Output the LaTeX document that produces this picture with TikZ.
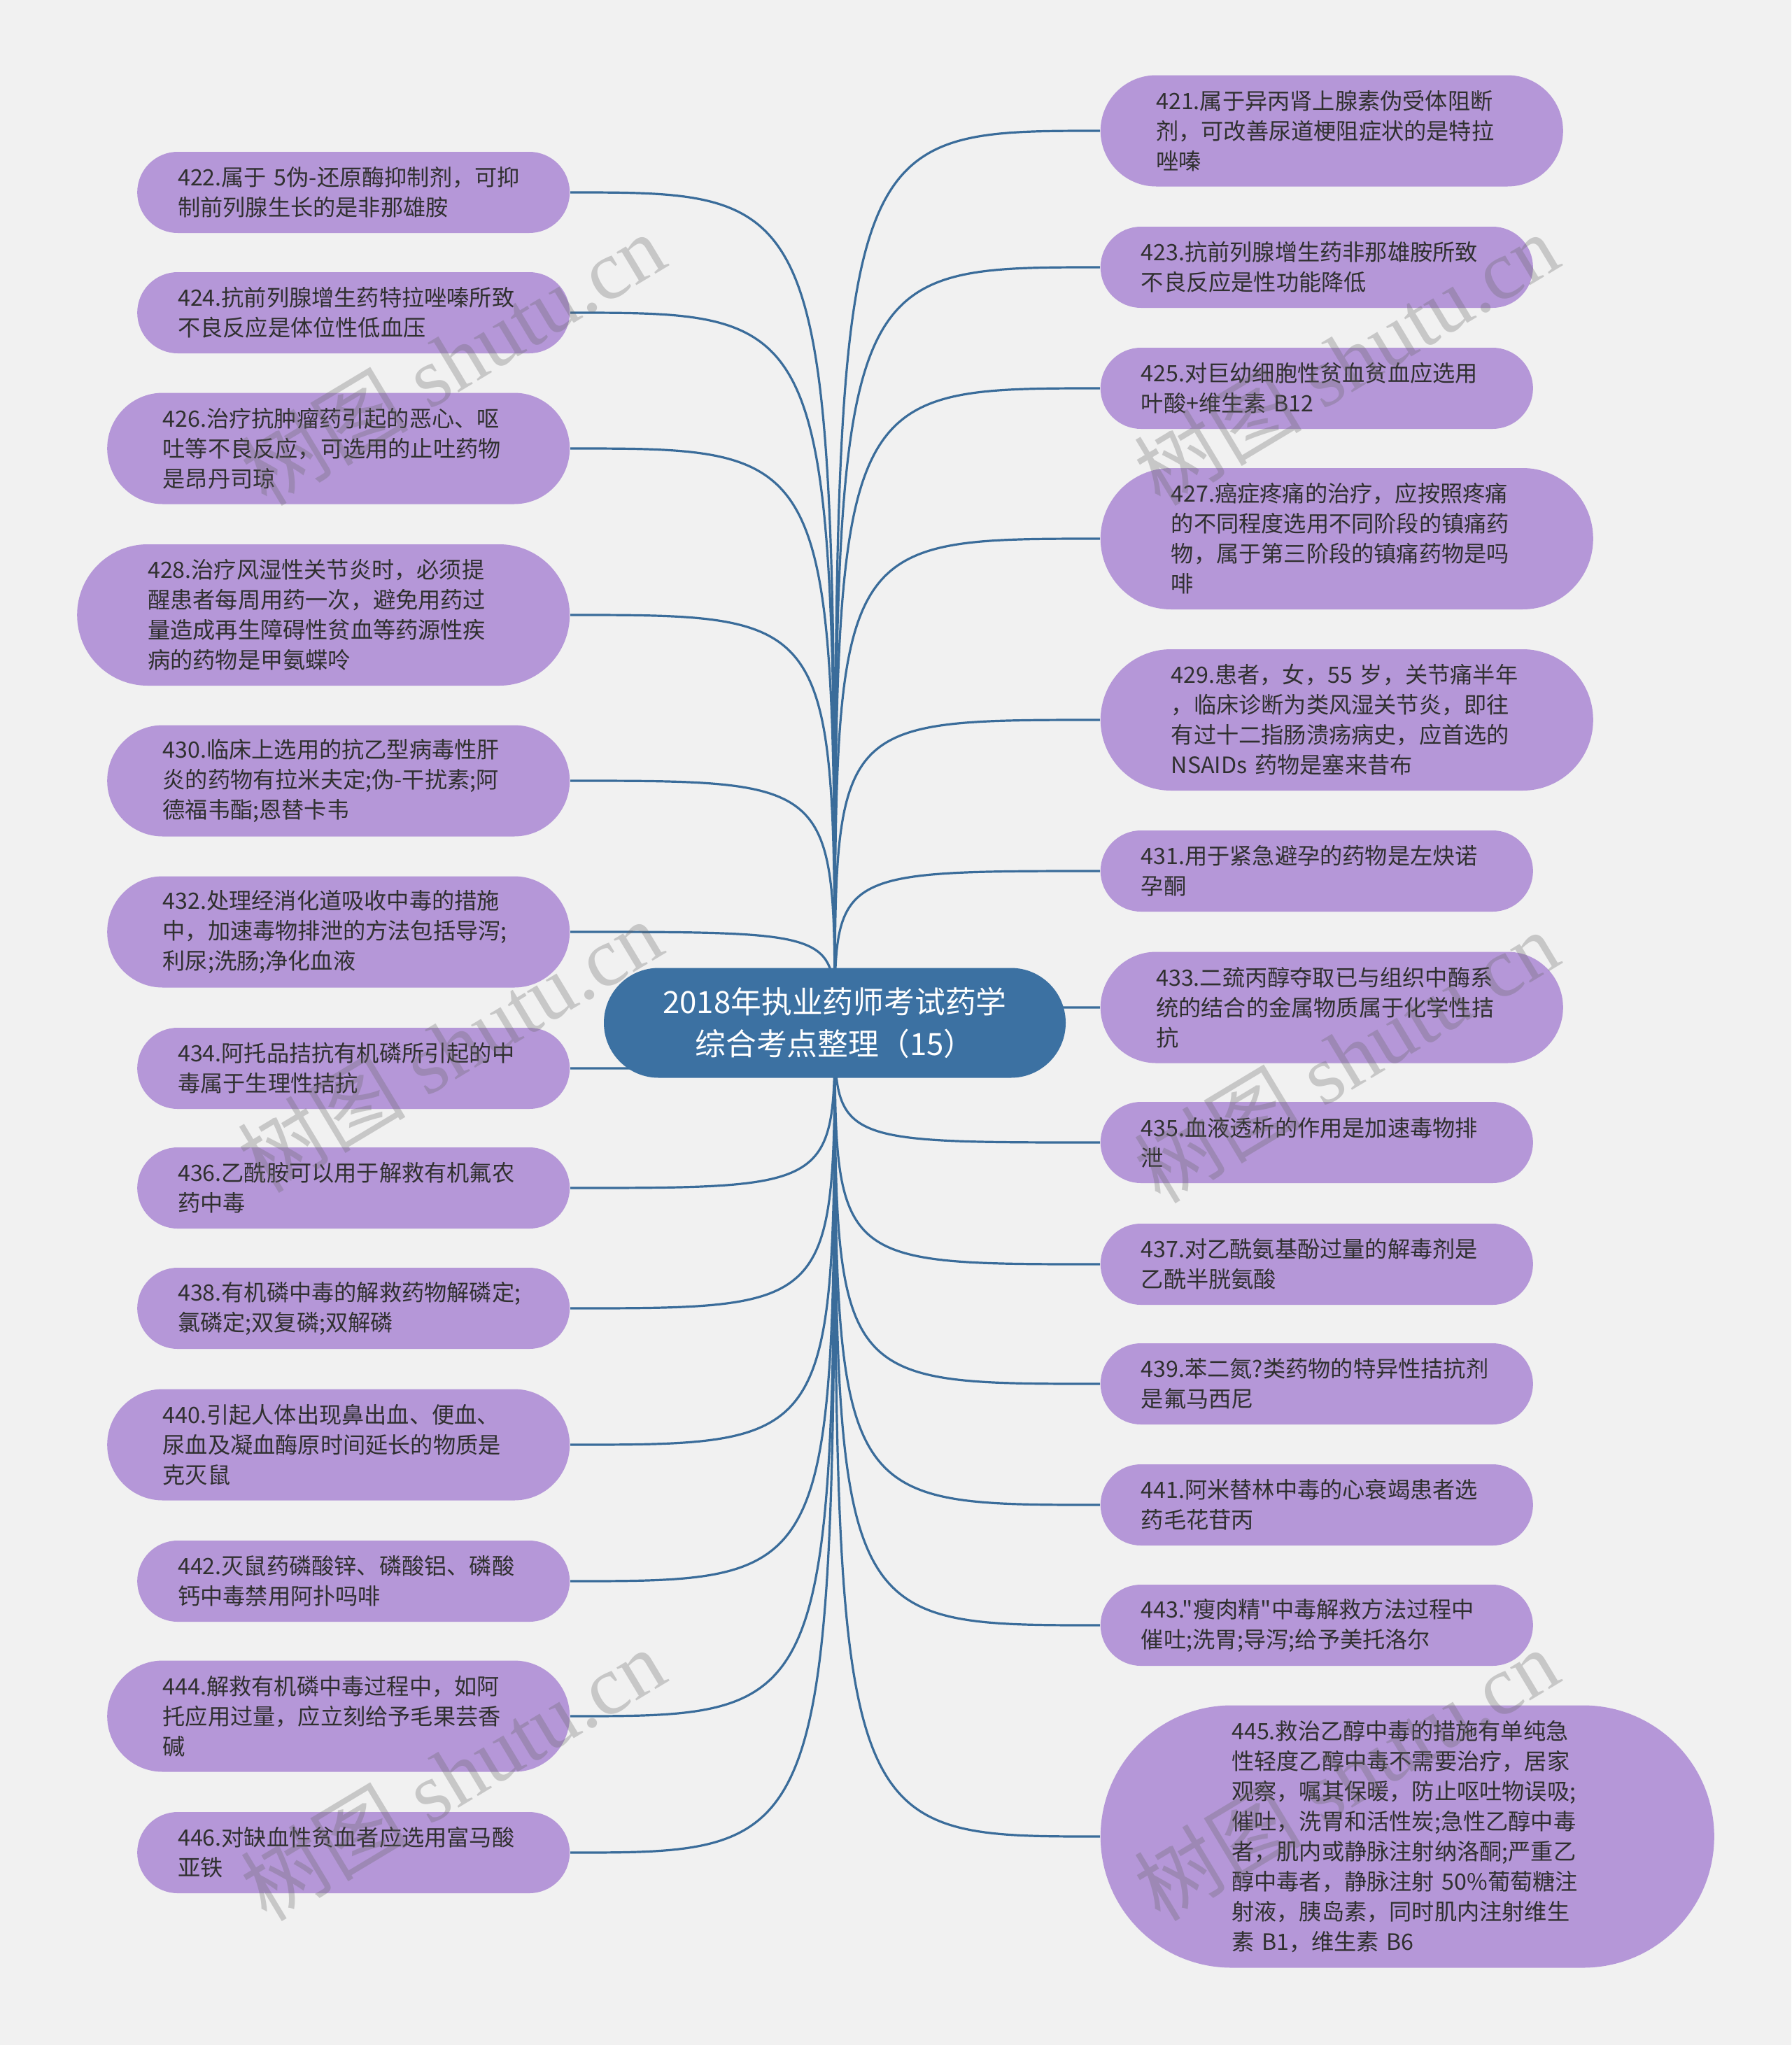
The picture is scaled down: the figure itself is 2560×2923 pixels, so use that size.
\documentclass[tikz,border=0pt]{standalone}
\usepackage{fontspec}
\setmainfont{Noto Sans CJK SC}
\newfontfamily\cjk{Noto Sans CJK SC}
\newfontfamily\wmlat{Liberation Serif}
\pgfdeclarelayer{bg}
\pgfsetlayers{bg,main}
\definecolor{bgc}{HTML}{F1F1F1}
\definecolor{leafc}{HTML}{B597D8}
\definecolor{centc}{HTML}{3C71A2}
\definecolor{linec}{HTML}{3A6C9A}
\definecolor{txtc}{HTML}{303030}
\tikzset{
  leafbase/.style={fill=leafc, text=txtc, font=\cjk\fontsize{8.05}{10.75}\selectfont,
    align=left, text width=125.5pt, inner sep=0pt},
  leaftwo/.style={leafbase, minimum width=154.5pt, minimum height=29pt, rounded corners=14.45pt},
  leafthree/.style={leafbase, minimum width=165.25pt, minimum height=39.75pt, rounded corners=19.85pt},
  leaffour/.style={leafbase, minimum width=176pt, minimum height=50.5pt, rounded corners=25.2pt},
  leafeight/.style={leafbase, minimum width=219.25pt, minimum height=93.75pt, rounded corners=46.85pt},
  centbox/.style={fill=centc, text=white, font=\cjk\fontsize{10.95}{15}\selectfont,
    align=center, inner sep=0pt, minimum width=165pt, minimum height=39.25pt, rounded corners=19.6pt},
  conn/.style={draw=linec, line width=0.8pt},
  wm/.style={text=black!60, opacity=0.3, font=\wmlat\fontsize{30}{30}\selectfont, rotate=31, inner sep=0pt}
}
\begin{document}
\begin{tikzpicture}[x=0.25pt,y=-0.25pt]
\begin{pgfonlayer}{bg}
\fill[bgc] (0,0) rectangle (2560,2923);
\end{pgfonlayer}
\useasboundingbox (0,0) rectangle (2560,2923);

% centre
\node[centbox] (c) at (1193,1462) {2018年执业药师考试药学\\综合考点整理（15）};

% left column
\node[leaftwo, anchor=east] (n422) at (815,275) {422.属于 5伪-还原酶抑制剂，可抑\\制前列腺生长的是非那雄胺};
\node[leaftwo, anchor=east] (n424) at (815,447) {424.抗前列腺增生药特拉唑嗪所致\\不良反应是体位性低血压};
\node[leafthree, anchor=east] (n426) at (815,641) {426.治疗抗肿瘤药引起的恶心、呕\\吐等不良反应，可选用的止吐药物\\是昂丹司琼};
\node[leaffour, anchor=east] (n428) at (815,879) {428.治疗风湿性关节炎时，必须提\\醒患者每周用药一次，避免用药过\\量造成再生障碍性贫血等药源性疾\\病的药物是甲氨蝶呤};
\node[leafthree, anchor=east] (n430) at (815,1116) {430.临床上选用的抗乙型病毒性肝\\炎的药物有拉米夫定;伪-干扰素;阿\\德福韦酯;恩替卡韦};
\node[leafthree, anchor=east] (n432) at (815,1332) {432.处理经消化道吸收中毒的措施\\中，加速毒物排泄的方法包括导泻;\\利尿;洗肠;净化血液};
\node[leaftwo, anchor=east] (n434) at (815,1527) {434.阿托品拮抗有机磷所引起的中\\毒属于生理性拮抗};
\node[leaftwo, anchor=east] (n436) at (815,1698) {436.乙酰胺可以用于解救有机氟农\\药中毒};
\node[leaftwo, anchor=east] (n438) at (815,1870) {438.有机磷中毒的解救药物解磷定;\\氯磷定;双复磷;双解磷};
\node[leafthree, anchor=east] (n440) at (815,2065) {440.引起人体出现鼻出血、便血、\\尿血及凝血酶原时间延长的物质是\\克灭鼠};
\node[leaftwo, anchor=east] (n442) at (815,2260) {442.灭鼠药磷酸锌、磷酸铝、磷酸\\钙中毒禁用阿扑吗啡};
\node[leafthree, anchor=east] (n444) at (815,2453) {444.解救有机磷中毒过程中，如阿\\托应用过量，应立刻给予毛果芸香\\碱};
\node[leaftwo, anchor=east] (n446) at (815,2648) {446.对缺血性贫血者应选用富马酸\\亚铁};

% right column
\node[leafthree, anchor=west] (n421) at (1572,187) {421.属于异丙肾上腺素伪受体阻断\\剂，可改善尿道梗阻症状的是特拉\\唑嗪};
\node[leaftwo, anchor=west] (n423) at (1572,382) {423.抗前列腺增生药非那雄胺所致\\不良反应是性功能降低};
\node[leaftwo, anchor=west] (n425) at (1572,555) {425.对巨幼细胞性贫血贫血应选用\\叶酸+维生素 B12};
\node[leaffour, anchor=west] (n427) at (1572,770) {427.癌症疼痛的治疗，应按照疼痛\\的不同程度选用不同阶段的镇痛药\\物，属于第三阶段的镇痛药物是吗\\啡};
\node[leaffour, anchor=west] (n429) at (1572,1029) {429.患者，女，55 岁，关节痛半年\\，临床诊断为类风湿关节炎，即往\\有过十二指肠溃疡病史，应首选的\\NSAIDs 药物是塞来昔布};
\node[leaftwo, anchor=west] (n431) at (1572,1245) {431.用于紧急避孕的药物是左炔诺\\孕酮};
\node[leafthree, anchor=west] (n433) at (1572,1440) {433.二巯丙醇夺取已与组织中酶系\\统的结合的金属物质属于化学性拮\\抗};
\node[leaftwo, anchor=west] (n435) at (1572,1633) {435.血液透析的作用是加速毒物排\\泄};
\node[leaftwo, anchor=west] (n437) at (1572,1807) {437.对乙酰氨基酚过量的解毒剂是\\乙酰半胱氨酸};
\node[leaftwo, anchor=west] (n439) at (1572,1978) {439.苯二氮?类药物的特异性拮抗剂\\是氟马西尼};
\node[leaftwo, anchor=west] (n441) at (1572,2151) {441.阿米替林中毒的心衰竭患者选\\药毛花苷丙};
\node[leaftwo, anchor=west] (n443) at (1572,2323) {443."瘦肉精"中毒解救方法过程中\\催吐;洗胃;导泻;给予美托洛尔};
\node[leafeight, anchor=west] (n445) at (1572,2625) {445.救治乙醇中毒的措施有单纯急\\性轻度乙醇中毒不需要治疗，居家\\观察，嘱其保暖，防止呕吐物误吸;\\催吐，洗胃和活性炭;急性乙醇中毒\\者，肌内或静脉注射纳洛酮;严重乙\\醇中毒者，静脉注射 50\%葡萄糖注\\射液，胰岛素，同时肌内注射维生\\素 B1，维生素 B6};

% connectors
\begin{pgfonlayer}{bg}
\foreach \t in {n422,n424,n426,n428,n430,n432,n434,n436,n438,n440,n442,n444,n446}{
  \draw[conn] (c.center) .. controls (c.center |- \t.east) .. (\t.east);
}
\foreach \t in {n421,n423,n425,n427,n429,n431,n433,n435,n437,n439,n441,n443,n445}{
  \draw[conn] (c.center) .. controls (c.center |- \t.west) .. (\t.west);
}
\end{pgfonlayer}

% watermarks
\node[wm] (wm1) at (647,513) {{\cjk 树图} shutu.cn};
\node[wm] (wm2) at (643,1495) {{\cjk 树图} shutu.cn};
\node[wm] (wm3) at (647,2536) {{\cjk 树图} shutu.cn};
\node[wm] (wm4) at (1924,513) {{\cjk 树图} shutu.cn};
\node[wm] (wm5) at (1924,1510) {{\cjk 树图} shutu.cn};
\node[wm] (wm6) at (1924,2536) {{\cjk 树图} shutu.cn};
\end{tikzpicture}
\end{document}
